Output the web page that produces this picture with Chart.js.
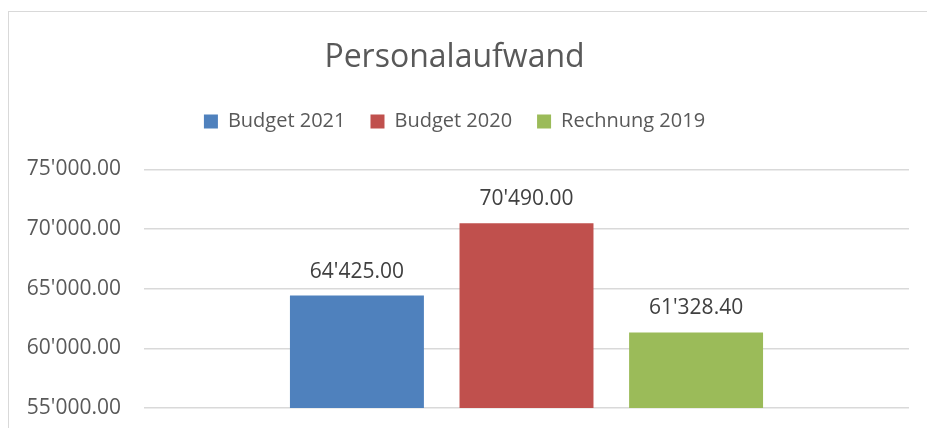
<!DOCTYPE html>
<html>
<head>
<meta charset="utf-8">
<script src="https://cdn.jsdelivr.net/npm/chart.js@4"></script>
<style>
    html, body { margin: 0; padding: 0; background: #ffffff; overflow: hidden; }
    #wrap { position: relative; width: 927px; height: 428px; }
    #frame {
        position: absolute; left: 8px; top: 11px; width: 1000px; height: 1000px;
        border: 1.5px solid #d9d9d9; box-sizing: border-box;
    }
    canvas { position: absolute; left: 0; top: 0; }
</style>
</head>
<body>
<div id="wrap">
    <div id="frame"></div>
    <canvas id="chart" width="927" height="428"></canvas>
</div>
<script>
// Daten aus dem Diagramm
const categories = ["Personalaufwand"];
const seriesNames = ["Budget 2021", "Budget 2020", "Rechnung 2019"];
const seriesValues = [[64425.00], [70490.00], [61328.40]];
const seriesColors = ["#4F81BD", "#C0504D", "#9BBB59"];
const yTicks = [55000, 60000, 65000, 70000, 75000];

const fontName = "'Open Sans', sans-serif";

// Zahl im Schweizer Format: 64'425.00
function formatCH(value) {
    const parts = value.toFixed(2).split(".");
    parts[0] = parts[0].replace(/\B(?=(\d{3})+(?!\d))/g, "'");
    return parts.join(".");
}

// Werte über den Balken anzeigen
const valueLabels = {
    id: "valueLabels",
    afterDatasetsDraw(chart) {
        const ctx = chart.ctx;
        ctx.save();
        ctx.font = "21px " + fontName;
        ctx.fillStyle = "#404040";
        ctx.textAlign = "center";
        ctx.textBaseline = "middle";
        chart.data.datasets.forEach((ds, i) => {
            chart.getDatasetMeta(i).data.forEach((bar, j) => {
                ctx.fillText(formatCH(ds.data[j]), bar.x, bar.y - 24);
            });
        });
        ctx.restore();
    }
};

// mehr Abstand unter der Legende
const legendSpace = {
    id: "legendSpace",
    beforeInit(chart) {
        const origFit = chart.legend.fit;
        chart.legend.fit = function () {
            origFit.call(this);
            this.height += 28;
        };
    }
};

const ctx = document.getElementById("chart").getContext("2d");

new Chart(ctx, {
    type: "bar",
    data: {
        labels: categories,
        datasets: seriesNames.map((name, i) => ({
            label: name,
            data: seriesValues[i],
            backgroundColor: seriesColors[i],
            borderWidth: 0,
            categoryPercentage: 0.665,
            barPercentage: 0.79
        }))
    },
    options: {
        responsive: false,
        animation: false,
        layout: {
            padding: { top: 0, right: 18, bottom: 20, left: 0 }
        },
        plugins: {
            title: {
                display: true,
                text: "Personalaufwand",
                color: "#595959",
                font: { family: fontName, size: 32, weight: "normal" },
                padding: { top: 39, bottom: 9 }
            },
            legend: {
                display: true,
                labels: {
                    color: "#595959",
                    font: { family: fontName, size: 20 },
                    boxWidth: 14,
                    boxHeight: 14,
                    padding: 25
                }
            },
            tooltip: { enabled: false }
        },
        scales: {
            x: {
                display: false
            },
            y: {
                min: 55000,
                max: 75000,
                afterBuildTicks: (scale) => {
                    scale.ticks = yTicks.map(v => ({ value: v }));
                },
                afterFit: (scale) => {
                    scale.width = 144;
                },
                ticks: {
                    color: "#595959",
                    font: { family: fontName, size: 21 },
                    padding: 0,
                    callback: (value) => formatCH(value)
                },
                grid: {
                    color: "#d9d9d9",
                    lineWidth: 1.5,
                    drawTicks: true,
                    tickLength: 23,
                    tickColor: "rgba(0,0,0,0)"
                },
                border: { display: false }
            }
        }
    },
    plugins: [valueLabels, legendSpace]
});
</script>
</body>
</html>
